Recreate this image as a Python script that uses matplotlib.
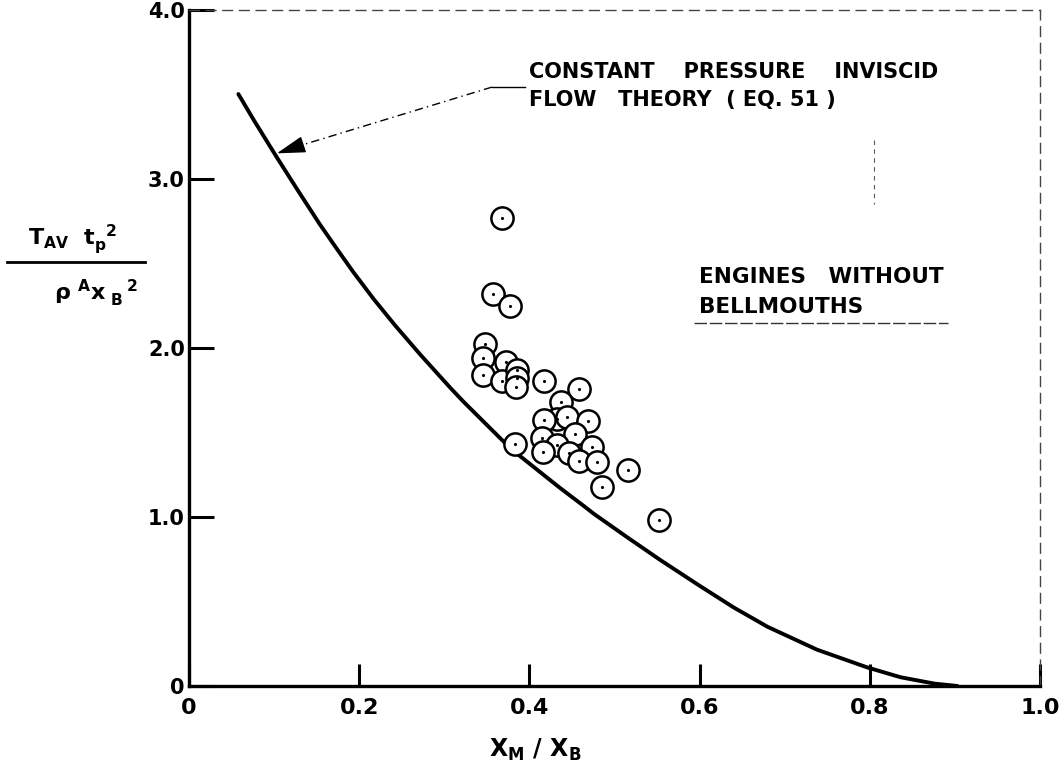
import numpy as np
import matplotlib
matplotlib.use("Agg")
import matplotlib.pyplot as plt

plt.rcParams['font.family'] = 'DejaVu Sans'
plt.rcParams['font.weight'] = 'bold'
plt.rcParams['mathtext.fontset'] = 'dejavusans'
plt.rcParams['mathtext.default'] = 'bf'

# theory curve
curve_x = [0.058, 0.076, 0.103, 0.127, 0.154, 0.174, 0.193, 0.217, 0.242,
           0.272, 0.307, 0.323, 0.354, 0.378, 0.421, 0.436, 0.464, 0.476,
           0.515, 0.554, 0.601, 0.640, 0.680, 0.738, 0.797, 0.836, 0.876, 0.903]
curve_y = [3.503, 3.35, 3.13, 2.94, 2.73, 2.585, 2.45, 2.29, 2.135,
           1.96, 1.765, 1.68, 1.525, 1.405, 1.232, 1.172, 1.065, 1.018,
           0.88, 0.745, 0.59, 0.465, 0.35, 0.215, 0.11, 0.052, 0.014, 0.0]

# engine test points
pts_x = [0.368, 0.357, 0.377, 0.348, 0.346, 0.372, 0.346, 0.368, 0.386, 0.386,
         0.384, 0.417, 0.458, 0.437, 0.433, 0.417, 0.444, 0.469, 0.454, 0.415,
         0.433, 0.416, 0.446, 0.474, 0.458, 0.480, 0.516, 0.485, 0.383, 0.552]
pts_y = [2.771, 2.318, 2.250, 2.022, 1.939, 1.919, 1.840, 1.805, 1.870, 1.821,
         1.771, 1.805, 1.756, 1.682, 1.578, 1.574, 1.593, 1.570, 1.489, 1.466,
         1.426, 1.383, 1.377, 1.412, 1.331, 1.324, 1.278, 1.179, 1.432, 0.982]

xticks = [0, 0.2, 0.4, 0.6, 0.8, 1.0]
xtick_labels = ['0', '0.2', '0.4', '0.6', '0.8', '1.0']
yticks = [0, 1, 2, 3, 4]
ytick_labels = ['0', '1.0', '2.0', '3.0', '4.0']

fig = plt.figure(figsize=(10.6, 7.72), dpi=100)
ax = fig.add_axes([0.1783, 0.1114, 0.8028, 0.8756])

ax.plot(curve_x, curve_y, color='black', lw=2.8, solid_capstyle='round',
        solid_joinstyle='round', zorder=3)

# open circles with a small dot in the middle
ax.plot(pts_x, pts_y, 'o', ms=16, mfc='white', mec='black', mew=1.8,
        ls='none', zorder=4)
ax.plot(pts_x, pts_y, '.', ms=2.5, color='black', ls='none', zorder=5)

ax.set_xlim(0, 1.0)
ax.set_ylim(0, 4.0)
ax.set_xticks(xticks)
ax.set_xticklabels(xtick_labels)
ax.set_yticks(yticks)
ax.set_yticklabels(ytick_labels)
ax.tick_params(axis='x', direction='in', length=16, width=2.2, pad=9, labelsize=16)
ax.tick_params(axis='y', direction='in', length=18, width=2.2, pad=3, labelsize=15)

for s in ['left', 'bottom']:
    ax.spines[s].set_linewidth(2.4)
for s in ['top', 'right']:
    ax.spines[s].set_linewidth(1.0)
    ax.spines[s].set_linestyle((0, (7, 5)))
    ax.spines[s].set_color('#444444')

# leader line and arrow for the theory label
ax.plot([0.395, 0.356], [3.544, 3.544], color='black', lw=1.0)
ax.plot([0.356, 0.1326], [3.544, 3.201], color='black', lw=1.0, ls=(0, (6, 3, 1, 3)))
ax.annotate('', xy=(0.1032, 3.152), xytext=(0.1326, 3.201),
            arrowprops=dict(arrowstyle='-|>,head_length=1.2,head_width=0.35',
                            color='black', lw=1.0, shrinkA=0, shrinkB=0,
                            mutation_scale=15))
ax.text(0.399, 3.633, 'CONSTANT    PRESSURE    INVISCID', fontsize=15,
        fontweight='bold', va='center', ha='left')
ax.text(0.399, 3.467, 'FLOW   THEORY  ( EQ. 51 )', fontsize=15,
        fontweight='bold', va='center', ha='left')

ax.text(0.599, 2.42, 'ENGINES   WITHOUT', fontsize=15.5, fontweight='bold',
        va='center', ha='left')
ax.text(0.599, 2.243, 'BELLMOUTHS', fontsize=15.5, fontweight='bold',
        va='center', ha='left')
ax.plot([0.593, 0.892], [2.148, 2.148], color='#333333', lw=1.0, ls=(0, (9, 2)))

# faint scan mark
ax.plot([0.805, 0.805], [3.23, 2.85], color='#555555', lw=0.8, ls=(0, (4, 4)))

# axis labels
fig.text(0.505, 0.028, r'$X_{M}\ /\ X_{B}$', fontsize=17, ha='center', va='center')
fig.text(0.068, 0.689, r'$T_{AV}\ \ t_{p}^{\ \ 2}$', fontsize=16, ha='center', va='center')
fig.text(0.0905, 0.620, r'$\rho\ {}^{A}x_{\ B}^{\quad\ 2}$', fontsize=16, ha='center', va='center')
fig.add_artist(plt.Line2D([0.007, 0.137], [0.661, 0.661], color='black', lw=2.0,
                          transform=fig.transFigure))

fig.savefig('out.png', dpi=100)
